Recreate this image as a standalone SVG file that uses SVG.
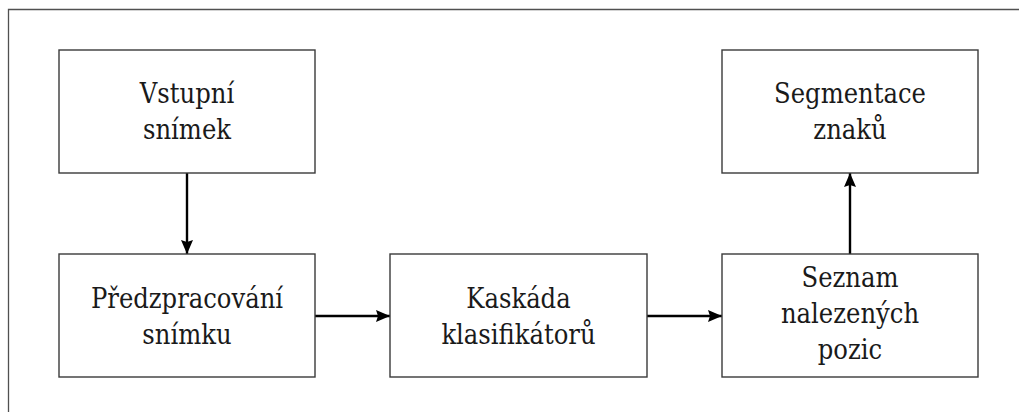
<svg xmlns="http://www.w3.org/2000/svg" width="1019" height="412" viewBox="0 0 1019 412">
<style>
.frame{fill:none;stroke:#505050;stroke-width:1.3}
.box{fill:#fff;stroke:#3a3a3a;stroke-width:1.4}
.lbl{font-family:"DejaVu Serif Condensed","DejaVu Serif",serif;font-stretch:condensed;font-size:27px;fill:#1a1a1a;text-anchor:middle}
.conn{stroke:#000;stroke-width:2.4;fill:none;marker-end:url(#ah)}
</style>
<defs>
<marker id="ah" viewBox="0 0 14 12" refX="14" refY="6" markerWidth="14" markerHeight="12" markerUnits="userSpaceOnUse" orient="auto">
<path d="M0,0 L14,6 L0,12 L2,6 Z" fill="#000"/>
</marker>
</defs>
<rect width="1019" height="412" fill="#fff"/>
<path class="frame" d="M8.5,420 V9.5 H1025"/>
<g id="connectors">
<line class="conn" x1="187" y1="173" x2="187" y2="254"/>
<line class="conn" x1="315" y1="316" x2="390" y2="316"/>
<line class="conn" x1="647" y1="316" x2="722" y2="316"/>
<line class="conn" x1="850" y1="254" x2="850" y2="173"/>
</g>
<g id="vstupni">
<rect class="box" x="59" y="50" width="256" height="123"/>
<text class="lbl" x="187" y="103">Vstupní</text>
<text class="lbl" x="187" y="139">snímek</text>
</g>
<g id="predzpracovani">
<rect class="box" x="59" y="254" width="256" height="123"/>
<text class="lbl" x="187" y="308">Předzpracování</text>
<text class="lbl" x="187" y="344">snímku</text>
</g>
<g id="kaskada">
<rect class="box" x="390" y="254" width="257" height="123"/>
<text class="lbl" x="518.5" y="308">Kaskáda</text>
<text class="lbl" x="518.5" y="344">klasifikátorů</text>
</g>
<g id="seznam">
<rect class="box" x="722" y="254" width="256" height="123"/>
<text class="lbl" x="850" y="287">Seznam</text>
<text class="lbl" x="850" y="323">nalezených</text>
<text class="lbl" x="850" y="359">pozic</text>
</g>
<g id="segmentace">
<rect class="box" x="722" y="50" width="256" height="123"/>
<text class="lbl" x="850" y="103">Segmentace</text>
<text class="lbl" x="850" y="139">znaků</text>
</g>
</svg>
